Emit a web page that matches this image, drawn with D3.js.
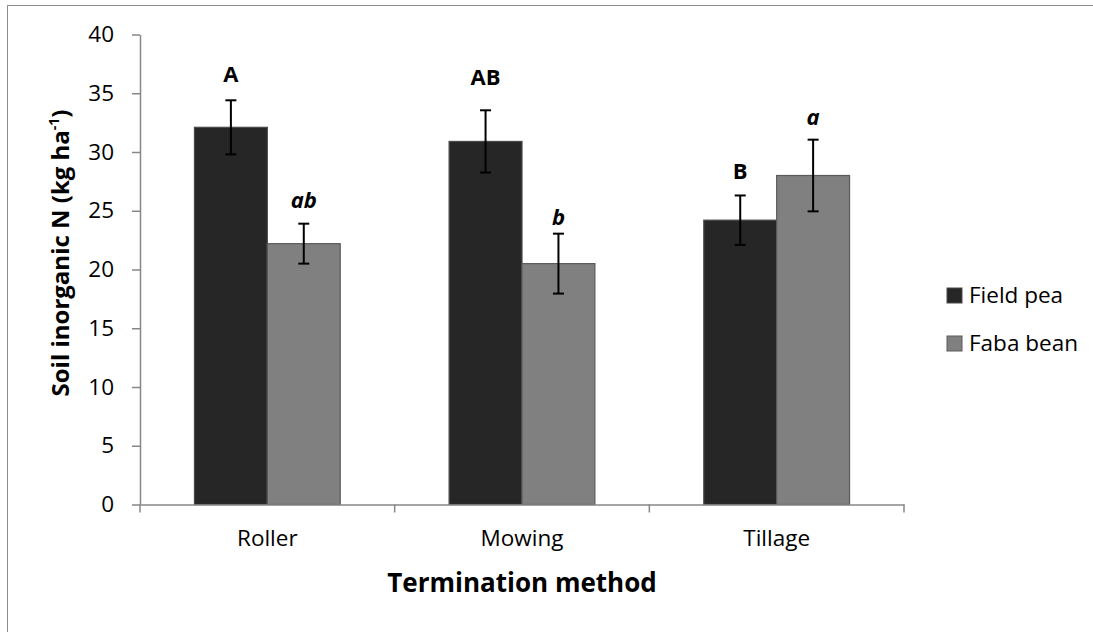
<!DOCTYPE html>
<html>
<head>
<meta charset="utf-8">
<script src="https://cdn.jsdelivr.net/npm/d3@7"></script>
<style>
  html, body { margin: 0; padding: 0; background: #fff; }
  svg { display: block; font-family: "Open Sans", "DejaVu Sans", sans-serif; }
</style>
</head>
<body>
<svg id="chart" width="1093" height="632"></svg>
<script>
// Termination methods and the two cover crops
const methods = ["Roller", "Mowing", "Tillage"];
const crops = ["Field pea", "Faba bean"];

// Mean soil inorganic N (kg ha-1) and standard errors
const fieldPea = [32.1, 30.9, 24.2];
const fieldPeaErr = [2.3, 2.65, 2.1];
const fabaBean = [22.2, 20.5, 28.0];
const fabaBeanErr = [1.7, 2.55, 3.05];

// Mean-separation letters and the axis level each letter sits on
const fieldPeaLetters = ["A", "AB", "B"];
const fabaBeanLetters = ["ab", "b", "a"];
const fieldPeaLetterAt = [36.0, 35.7, 27.7];
const fabaBeanLetterAt = [25.25, 23.8, 32.3];

const yTicks = [0, 5, 10, 15, 20, 25, 30, 35, 40];

const series = [
  { name: crops[0], values: fieldPea, err: fieldPeaErr, letters: fieldPeaLetters, letterAt: fieldPeaLetterAt,
    fill: "#262626", stroke: "#4a4a4a", italic: false },
  { name: crops[1], values: fabaBean, err: fabaBeanErr, letters: fabaBeanLetters, letterAt: fabaBeanLetterAt,
    fill: "#808080", stroke: "#5a5a5a", italic: true }
];

const svg = d3.select("#chart");
const axisColor = "#878787";

// chart frame
svg.append("rect")
  .attr("x", 7.5).attr("y", 5.5)
  .attr("width", 1200).attr("height", 700)
  .attr("fill", "none").attr("stroke", "#8c8c8c").attr("stroke-width", 1);

const x = d3.scaleBand().domain(methods).range([140, 904]).paddingInner(0).paddingOuter(0);
const xs = d3.scaleBand().domain(crops).range([0, x.bandwidth()]).paddingInner(0).paddingOuter(0.747);
const y = d3.scaleLinear().domain([0, 40]).range([504.5, 34.5]);

// y axis
const yAxis = svg.append("g")
  .attr("transform", "translate(140,0)")
  .call(d3.axisLeft(y).tickValues(yTicks).tickSize(8).tickSizeOuter(0).tickPadding(18));
yAxis.select(".domain").attr("stroke", axisColor).attr("stroke-width", 1.5);
yAxis.selectAll(".tick line").attr("stroke", axisColor).attr("stroke-width", 1.5);
yAxis.selectAll(".tick text")
  .attr("font-size", 22.5).attr("fill", "#000")
  .attr("font-family", "'Open Sans', sans-serif");

// bars
const groups = svg.append("g").selectAll("g")
  .data(series).join("g");

groups.selectAll("rect")
  .data(s => s.values.map((v, i) => ({ s, v, i })))
  .join("rect")
  .attr("x", d => x(methods[d.i]) + xs(d.s.name))
  .attr("y", d => y(d.v))
  .attr("width", xs.bandwidth())
  .attr("height", d => y(0) - y(d.v))
  .attr("fill", d => d.s.fill)
  .attr("stroke", d => d.s.stroke)
  .attr("stroke-width", 1.2);

// x axis with ticks at category boundaries
const xAxis = svg.append("g")
  .attr("transform", `translate(0,${y(0)})`)
  .call(d3.axisBottom(x).tickSize(0).tickPadding(26));
xAxis.select(".domain").attr("stroke", axisColor).attr("stroke-width", 1.5);
xAxis.selectAll(".tick text")
  .attr("font-size", 22.5).attr("fill", "#000")
  .attr("font-family", "'Open Sans', sans-serif");
const bounds = methods.map(m => x(m)).concat([x(methods[methods.length - 1]) + x.bandwidth()]);
xAxis.selectAll(".bound").data(bounds).join("line")
  .attr("class", "bound")
  .attr("x1", d => d).attr("x2", d => d)
  .attr("y1", 0).attr("y2", 8)
  .attr("stroke", axisColor).attr("stroke-width", 1.5);

// error bars and letters
const capHalf = 5.5;
groups.each(function (s) {
  const g = d3.select(this);
  s.values.forEach((v, i) => {
    const cx = x(methods[i]) + xs(s.name) + xs.bandwidth() / 2;
    const hi = y(v + s.err[i]), lo = y(v - s.err[i]);
    const eb = g.append("g").attr("stroke", "#000").attr("stroke-width", 2);
    eb.append("line").attr("x1", cx).attr("x2", cx).attr("y1", hi).attr("y2", lo);
    eb.append("line").attr("x1", cx - capHalf).attr("x2", cx + capHalf).attr("y1", hi).attr("y2", hi);
    eb.append("line").attr("x1", cx - capHalf).attr("x2", cx + capHalf).attr("y1", lo).attr("y2", lo);
    g.append("text")
      .attr("x", cx).attr("y", y(s.letterAt[i]))
      .attr("text-anchor", "middle")
      .attr("font-size", 22).attr("font-weight", "bold")
      .attr("font-style", s.italic ? "italic" : "normal")
      .attr("fill", "#000")
      .text(s.letters[i]);
  });
});

// axis titles
svg.append("text")
  .attr("x", 522).attr("y", 592)
  .attr("text-anchor", "middle")
  .attr("font-size", 26).attr("font-weight", "bold").attr("fill", "#000")
  .text("Termination method");

const yTitle = svg.append("text")
  .attr("transform", "translate(69,253) rotate(-90)")
  .attr("text-anchor", "middle")
  .attr("font-size", 24).attr("font-weight", "bold").attr("fill", "#000");
yTitle.append("tspan").text("Soil inorganic N (kg ha");
yTitle.append("tspan").attr("font-size", 14).attr("dy", -10).text("-1");
yTitle.append("tspan").attr("dy", 10).text(")");

// legend
const legend = svg.append("g").selectAll("g")
  .data(series).join("g")
  .attr("transform", (d, i) => `translate(947,${288 + i * 48})`);
legend.append("rect")
  .attr("width", 15).attr("height", 15)
  .attr("fill", d => d.fill).attr("stroke", d => d.stroke).attr("stroke-width", 1);
legend.append("text")
  .attr("x", 22).attr("y", 14.7)
  .attr("font-size", 22.5).attr("fill", "#000")
  .text(d => d.name);
</script>
</body>
</html>
